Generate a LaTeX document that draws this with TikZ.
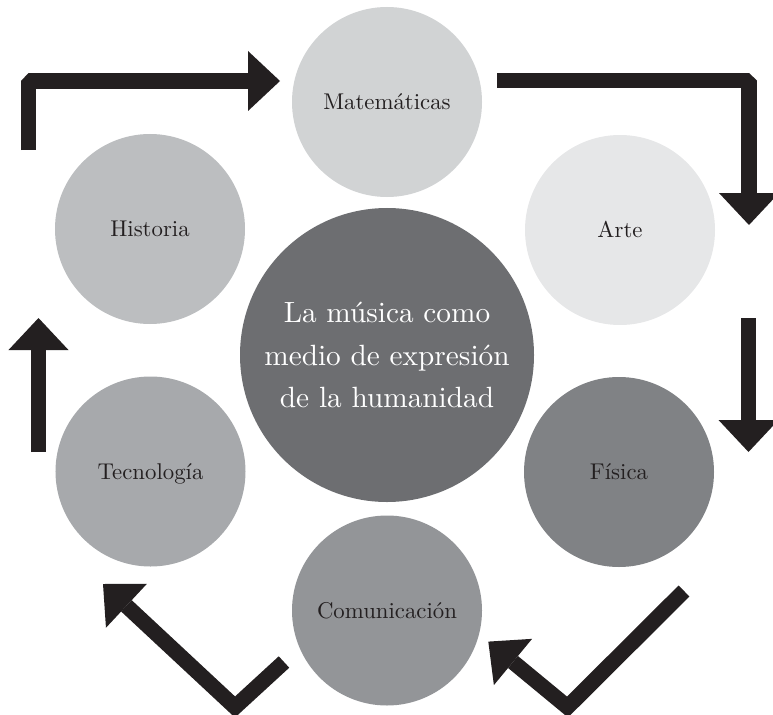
\documentclass[tikz,border=0pt]{standalone}
\usepackage{fontspec}
\setmainfont{lmroman10-regular.otf}
\usetikzlibrary{arrows.meta}

\definecolor{ink}{HTML}{231F20}
\definecolor{cMat}{HTML}{D1D3D4}
\definecolor{cArte}{HTML}{E6E7E8}
\definecolor{cHist}{HTML}{BCBEC0}
\definecolor{cTec}{HTML}{A7A9AC}
\definecolor{cFis}{HTML}{808285}
\definecolor{cCom}{HTML}{939598}
\definecolor{cCentro}{HTML}{6D6E71}

\begin{document}
\begin{tikzpicture}[x=1bp, y=-1bp,
  tema/.style={circle, minimum size=190bp, inner sep=0pt, text=ink,
    font=\fontsize{22.8bp}{27bp}\selectfont, text height=15.6bp, text depth=0bp},
  centro/.style={circle, minimum size=294bp, inner sep=0pt, fill=cCentro, text=white,
    align=center, font=\fontsize{29.3bp}{42.5bp}\selectfont,
    text height=105bp, text depth=0bp},
  flecha/.style={draw=ink, line width=15.5bp,
    -{Triangle[length=32bp, width=60bp, line width=0pt]}},
  recta/.style={flecha, line join=bevel},
  quebrada/.style={flecha, line join=miter}]

  \useasboundingbox (0,0) rectangle (773,715);
  \clip (0,0) rectangle (773,715);

  % themes around the centre
  \node[tema, fill=cMat]  (mat)  at (387,102)   {Matemáticas};
  \node[tema, fill=cArte] (arte) at (620,230)   {Arte};
  \node[tema, fill=cHist] (hist) at (150,229)   {Historia};
  \node[tema, fill=cTec]  (tec)  at (150.5,471.5) {Tecnología};
  \node[tema, fill=cFis]  (fis)  at (619,472)   {Física};
  \node[tema, fill=cCom]  (com)  at (387,610.5) {Comunicación};

  % central topic
  \node[centro] (centro) at (387,355) {La música como\\medio de expresión\\de la humanidad};

  % path points of the cycle arrows
  \coordinate (a1s) at (28.5,150);
  \coordinate (a1c) at (28.5,81);
  \coordinate (a1e) at (280,81);

  \coordinate (a2s) at (497,80.5);
  \coordinate (a2c) at (749,80.5);
  \coordinate (a2e) at (749,225);

  \coordinate (a3s) at (748.5,318);
  \coordinate (a3e) at (748.5,452);

  \coordinate (a4s) at (38.5,452);
  \coordinate (a4e) at (38.5,318);

  \coordinate (a5s) at (284,662);
  \coordinate (a5c) at (235,707);
  \coordinate (a5e) at (103,584);

  \coordinate (a6s) at (684,591);
  \coordinate (a6c) at (567.5,707);
  \coordinate (a6e) at (488.3,641.6);

  % cycle arrows
  \draw[recta]    (a1s) -- (a1c) -- (a1e);
  \draw[recta]    (a2s) -- (a2c) -- (a2e);
  \draw[recta]    (a3s) -- (a3e);
  \draw[recta]    (a4s) -- (a4e);
  \draw[quebrada] (a5s) -- (a5c) -- (a5e);
  \draw[quebrada] (a6s) -- (a6c) -- (a6e);
\end{tikzpicture}
\end{document}
